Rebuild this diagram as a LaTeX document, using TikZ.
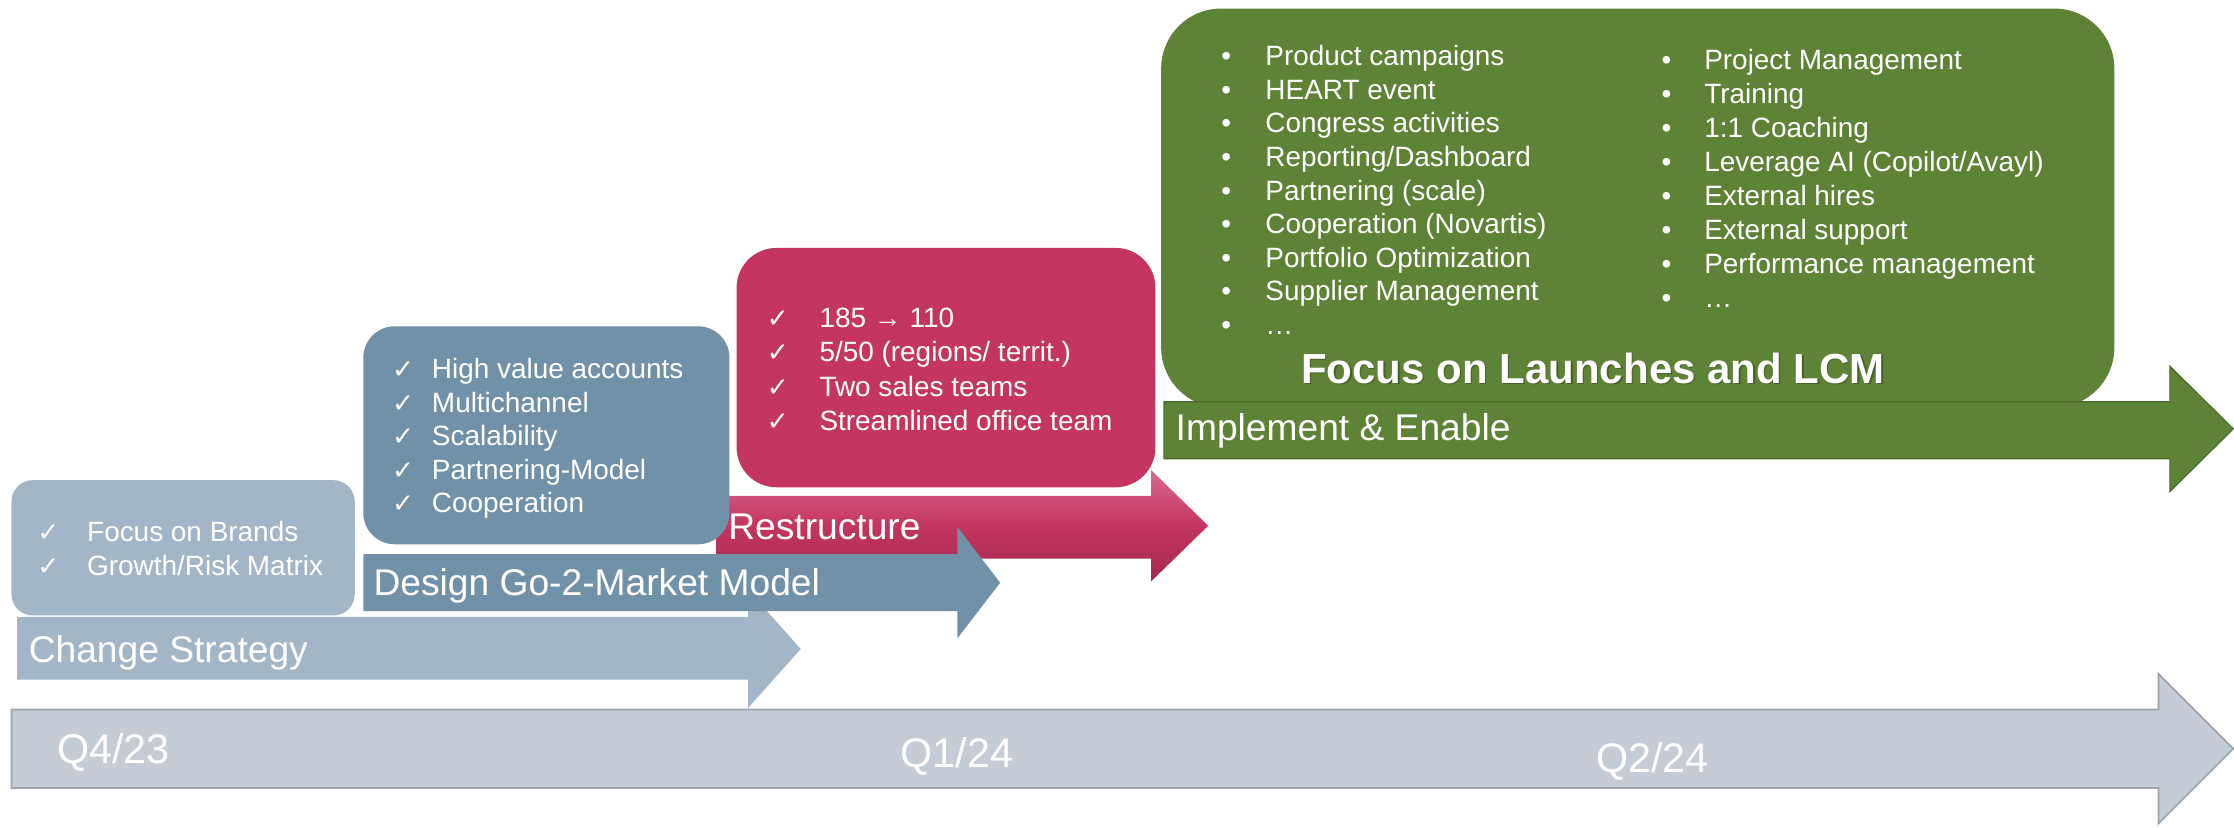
\documentclass[tikz,border=0pt]{standalone}
\usepackage{fontspec}
\setmainfont{Liberation Sans}
\newfontfamily\djv{DejaVu Sans}
\definecolor{tlfill}{HTML}{C4CDD5}
\definecolor{tlline}{HTML}{9CA5AE}
\definecolor{chg}{HTML}{A2B6C7}
\definecolor{des}{HTML}{7191A8}
\definecolor{res}{HTML}{C43561}
\definecolor{reslight}{HTML}{D9688F}
\definecolor{resdark}{HTML}{A3294F}
\definecolor{grn}{HTML}{5E8236}
\definecolor{grnline}{HTML}{4A6A2A}
\newcommand{\ckm}{{\djv\fontsize{18.5}{20}\selectfont ✓}}
\begin{document}
\begin{tikzpicture}[x=1pt,y=-1pt,
  big/.style={text=white,inner sep=0pt,anchor=base west,font=\fontsize{26.1}{30}\selectfont},
  qlab/.style={text=white,inner sep=0pt,anchor=base west,font=\fontsize{29}{33}\selectfont},
  item/.style={text=white,inner sep=0pt,anchor=base west,font=\fontsize{19.6}{23.6}\selectfont},
  ckstyle/.style={text=white,inner sep=0pt,anchor=base west}]
\useasboundingbox (0,0) rectangle (1568,581);
% timeline
\filldraw[fill=tlfill,draw=tlline,line width=1.2pt] (8,498) -- (1515,498) -- (1515,473) -- (1567.5,525.5) -- (1515,578) -- (1515,553) -- (8,553) -- cycle;
\node[qlab] (q4) at (40,536) {Q4/23};
\node[qlab] (q1) at (632,539) {Q1/24};
\node[qlab] (q2) at (1120,542) {Q2/24};
% change strategy
\fill[chg] (12,433) -- (525,433) -- (525,414) -- (562,455.5) -- (525,497) -- (525,477) -- (12,477) -- cycle;
\node[big] (cs) at (20,465) {Change Strategy};
\fill[chg,rounded corners=15pt] (8,337) rectangle (249,432);
\foreach [count=\i] \t in {{Focus on Brands},{Growth/Risk Matrix}}{
  \node[ckstyle] (csm\i) at (26,{380+(\i-1)*24}) {\ckm};
  \node[item] (csi\i) at (61,{380+(\i-1)*24}) {\t};
}
% restructure arrow
\shade[top color=reslight,bottom color=resdark,middle color=res] (503,348) -- (808,348) -- (808,330) -- (848,369) -- (808,408) -- (808,392) -- (503,392) -- cycle;
\node[big] (rs) at (511,379) {Restructure};
% design
\fill[des] (255,389) -- (672,389) -- (672,370) -- (702,409) -- (672,448) -- (672,429) -- (255,429) -- cycle;
\node[big] (dg) at (262,418) {Design Go-2-Market Model};
\fill[des,rounded corners=22pt] (255,229) rectangle (512,382);
\foreach [count=\i] \t in {{High value accounts},{Multichannel},{Scalability},{Partnering-Model},{Cooperation}}{
  \node[ckstyle] (dgm\i) at (275,{266+(\i-1)*23.5}) {\ckm};
  \node[item] (dgi\i) at (303,{266+(\i-1)*23.5}) {\t};
}
% restructure box
\fill[res,rounded corners=28pt] (517,174) rectangle (811,342);
\foreach [count=\i] \t in {{185 → 110},{5/50 (regions/ territ.)},{Two sales teams},{Streamlined office team}}{
  \node[ckstyle] (rsm\i) at (538,{230+(\i-1)*24}) {\ckm};
  \node[item] (rsi\i) at (575,{230+(\i-1)*24}) {\t};
}
% green box
\fill[grn,rounded corners=42pt] (815,6) rectangle (1484,286);
\foreach [count=\i] \t in {{Product campaigns},{HEART event},{Congress activities},{Reporting/Dashboard},{Partnering (scale)},{Cooperation (Novartis)},{Portfolio Optimization},{Supplier Management},{…}}{
  \node[item] (glb\i) at (857,{46+(\i-1)*23.6}) {•};
  \node[item] (gli\i) at (888,{46+(\i-1)*23.6}) {\t};
}
\foreach [count=\i] \t in {{Project Management},{Training},{1:1 Coaching},{Leverage AI (Copilot/Avayl)},{External hires},{External support},{Performance management},{…}}{
  \node[item] (grb\i) at (1166,{49+(\i-1)*23.8}) {•};
  \node[item] (gri\i) at (1196,{49+(\i-1)*23.8}) {\t};
}
\node[inner sep=0pt,anchor=base west,text=black,opacity=0.25,font=\bfseries\fontsize{29.5}{34}\selectfont] (fcs) at (914,270) {Focus on Launches and LCM};
\node[inner sep=0pt,anchor=base west,text=white,font=\bfseries\fontsize{29.5}{34}\selectfont] (fc) at (913,269) {Focus on Launches and LCM};
% implement arrow
\filldraw[fill=grn,draw=grnline,line width=0.8pt] (817,282) -- (1523,282) -- (1523,257) -- (1567.5,301) -- (1523,345) -- (1523,322) -- (817,322) -- cycle;
\node[big] (ie) at (825,309) {Implement \& Enable};
\end{tikzpicture}
\end{document}
